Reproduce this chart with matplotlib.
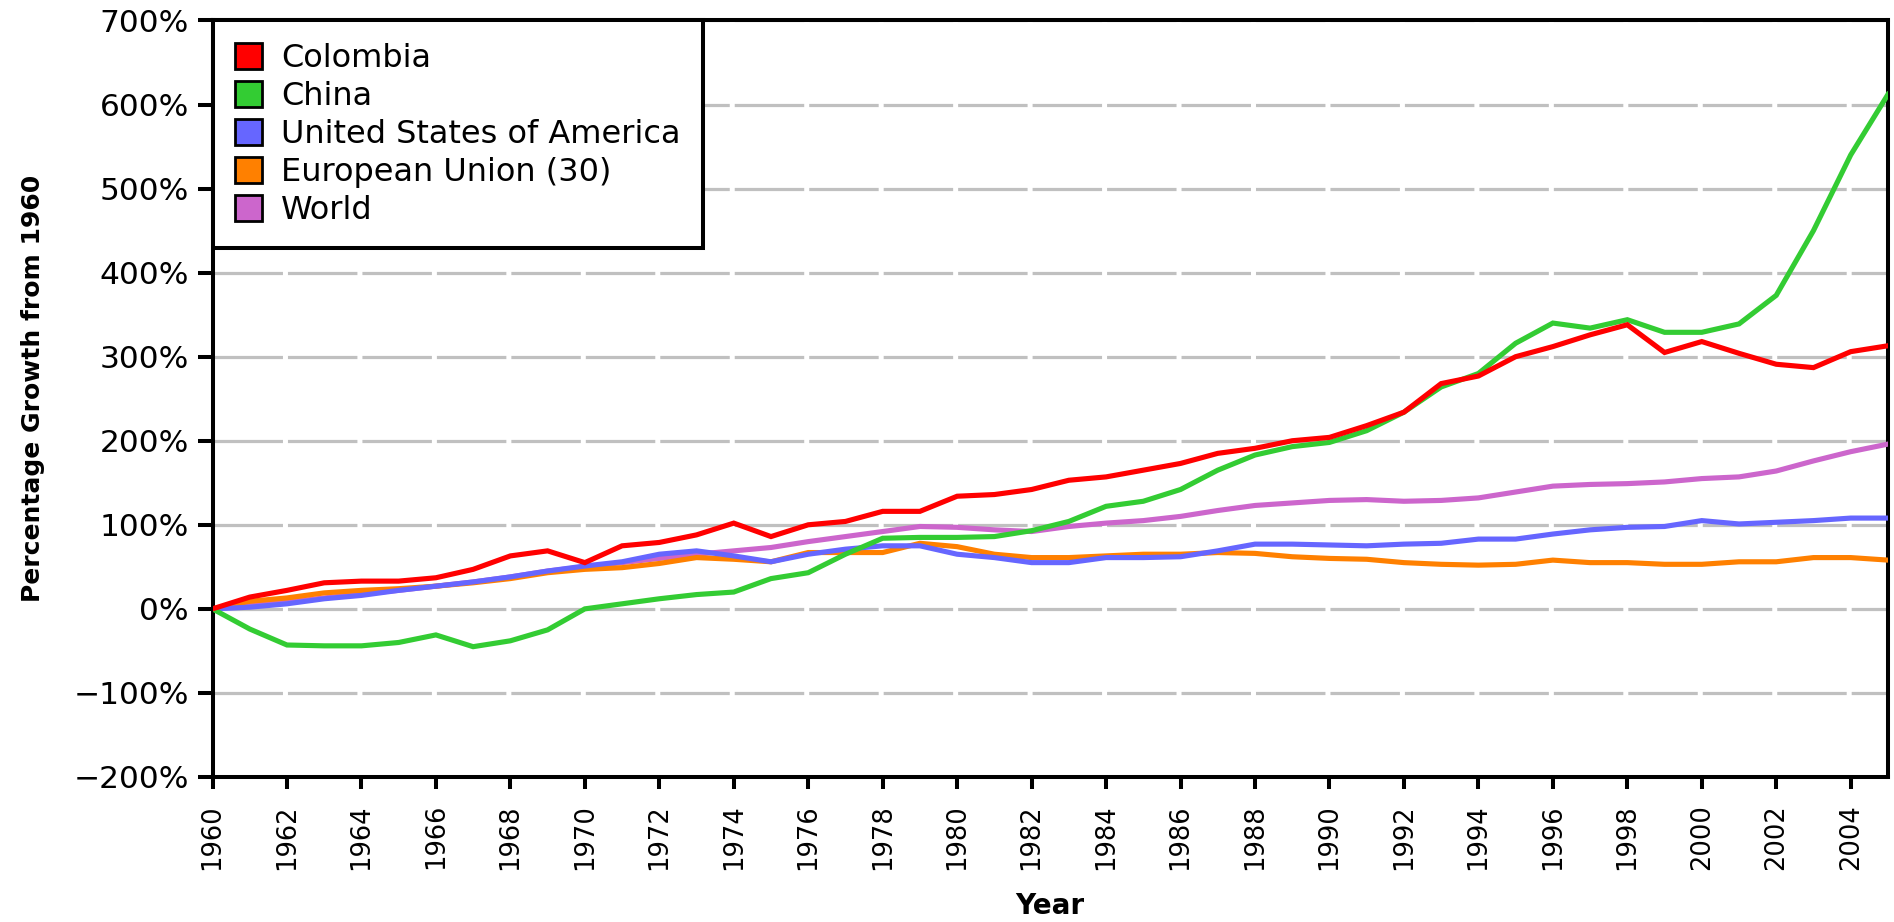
import matplotlib
matplotlib.use("Agg")
import matplotlib.pyplot as plt
from matplotlib.patches import Patch

# --------------------
# Data (percentage growth from 1960)
# --------------------
years = list(range(1960, 2006))

colombia = [0, 14, 22, 31, 33, 33, 37, 47, 63, 69,
            55, 75, 79, 88, 102, 86, 100, 104, 116, 116,
            134, 136, 142, 153, 157, 165, 173, 185, 191, 200,
            204, 218, 234, 268, 277, 300, 312, 326, 338, 305,
            318, 304, 291, 287, 306, 313]
china = [0, -24, -43, -44, -44, -40, -31, -45, -38, -25,
         0, 6, 12, 17, 20, 36, 43, 65, 84, 85,
         85, 86, 93, 104, 122, 128, 142, 165, 183, 193,
         198, 212, 234, 264, 280, 316, 340, 334, 344, 329,
         329, 339, 373, 450, 540, 612]
usa = [0, 2, 6, 12, 16, 22, 27, 32, 38, 45,
       51, 56, 65, 69, 63, 56, 65, 71, 75, 75,
       65, 61, 55, 55, 61, 61, 62, 69, 77, 77,
       76, 75, 77, 78, 83, 83, 89, 94, 97, 98,
       105, 101, 103, 105, 108, 108]
eu = [0, 9, 13, 19, 22, 24, 27, 31, 36, 43,
      47, 49, 54, 61, 59, 56, 67, 67, 67, 78,
      74, 65, 61, 61, 63, 65, 65, 67, 66, 62,
      60, 59, 55, 53, 52, 53, 58, 55, 55, 53,
      53, 56, 56, 61, 61, 58]
world = [0, 4, 8, 13, 18, 22, 27, 32, 38, 45,
         50, 55, 60, 65, 69, 73, 80, 86, 92, 98,
         97, 94, 92, 98, 102, 105, 110, 117, 123, 126,
         129, 130, 128, 129, 132, 139, 146, 148, 149, 151,
         155, 157, 164, 176, 187, 196]

series_names = ["Colombia", "China", "United States of America",
                "European Union (30)", "World"]
series_colors = ["#ff0000", "#33cc33", "#6666ff", "#ff8000", "#cc66cc"]

y_ticks = list(range(-200, 701, 100))
y_tick_labels = ["\u2212200%", "\u2212100%", "0%", "100%", "200%", "300%",
                 "400%", "500%", "600%", "700%"]
x_ticks = list(range(1960, 2005, 2))

# --------------------
# Figure
# --------------------
plt.rcParams['font.family'] = ['DejaVu Sans']
plt.rcParams['lines.scale_dashes'] = False

W, H, DPI = 18.94, 9.22, 100
fig = plt.figure(figsize=(W, H), dpi=DPI)
left, right, bottom, top = 0.1122, 0.9968, 0.1573, 0.9778
ax = fig.add_axes([left, bottom, right - left, top - bottom])

# draw back to front so Colombia sits on top
data = [colombia, china, usa, eu, world]
for i in reversed(range(len(data))):
    ax.plot(years, data[i], color=series_colors[i], lw=3.7,
            solid_joinstyle='miter', zorder=3 + (len(data) - i))

ax.set_xlim(1960, 2005)
ax.set_ylim(-200, 700)
ax.set_yticks(y_ticks)
ax.set_yticklabels(y_tick_labels)
ax.set_xticks(x_ticks)
ax.set_xticklabels([str(y) for y in x_ticks], rotation=90)

# dashed grid with gaps lined up on the 2-year ticks
ax_w_px = (right - left) * W * DPI
period_pt = ax_w_px * 2 / 45 * 72 / DPI
gap_pt = 3.6
ax.yaxis.grid(True, color="#c0c0c0", lw=2.3,
              linestyle=(0, (period_pt - gap_pt, gap_pt)), zorder=1)
ax.set_axisbelow(True)

for s in ax.spines.values():
    s.set_linewidth(2.9)
    s.set_color("black")

ax.tick_params(axis='both', direction='out', width=2.9, color="black")
ax.tick_params(axis='y', length=11, pad=6, labelsize=22.5)
ax.tick_params(axis='x', length=8.5, pad=11, labelsize=18.5)

ax.set_ylabel("Percentage Growth from 1960", fontsize=18, fontweight='bold')
ax.yaxis.set_label_coords(-0.100, 0.5136)
ax.set_xlabel("Year", fontsize=20, fontweight='bold')
ax.xaxis.set_label_coords(0.5, -0.152)

handles = [Patch(facecolor=c, edgecolor="black", lw=2) for c in series_colors]
leg = ax.legend(handles, series_names, loc='upper left', bbox_to_anchor=(0, 1),
                borderaxespad=0, fancybox=False, framealpha=1,
                edgecolor="black", fontsize=23, handlelength=0.85,
                handleheight=0.85, handletextpad=0.6, labelspacing=0.22,
                borderpad=0.7)
leg.get_frame().set_linewidth(2.9)
leg.set_zorder(20)

fig.savefig("out.png", dpi=DPI, facecolor="white")
